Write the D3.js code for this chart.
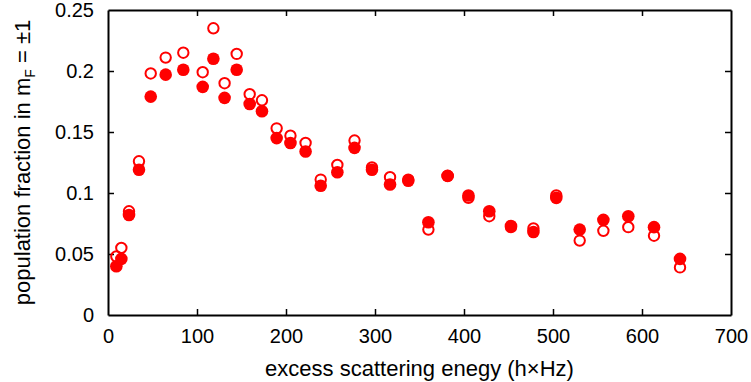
<!DOCTYPE html>
<html>
<head>
<meta charset="utf-8">
<script src="https://cdn.jsdelivr.net/npm/d3@7"></script>
<style>
  html, body { margin: 0; padding: 0; background: #fff; }
  svg { display: block; }
  text { font-family: "Liberation Sans", Arial, Helvetica, sans-serif; fill: #000; }
</style>
</head>
<body>
<svg id="chart" width="751" height="382"></svg>
<script>
// ---- data ----
const energy = [9.4, 15, 23.6, 34.8, 48, 64.8, 84.6, 106.4, 118.4, 131, 144.6, 159.2, 173, 189.5, 205, 222, 239, 257.7, 277, 296.6, 316.9, 337.4, 360, 381.6, 405, 428.4, 452.8, 478, 503.7, 530, 556.6, 584.6, 613.5, 642.7];
const filledFraction = [0.040, 0.046, 0.082, 0.119, 0.179, 0.197, 0.201, 0.187, 0.210, 0.178, 0.201, 0.173, 0.167, 0.145, 0.141, 0.134, 0.106, 0.117, 0.137, 0.119, 0.107, 0.110, 0.076, 0.114, 0.098, 0.085, 0.073, 0.068, 0.096, 0.070, 0.078, 0.081, 0.072, 0.046];
const openFraction = [0.048, 0.055, 0.085, 0.126, 0.198, 0.211, 0.215, 0.199, 0.235, 0.190, 0.214, 0.181, 0.176, 0.153, 0.147, 0.141, 0.111, 0.123, 0.143, 0.121, 0.113, 0.111, 0.070, 0.114, 0.096, 0.081, 0.072, 0.071, 0.098, 0.061, 0.069, 0.072, 0.065, 0.039];
const xTicks = [0, 100, 200, 300, 400, 500, 600, 700];
const yTicks = [0, 0.05, 0.1, 0.15, 0.2, 0.25];
const yTickLabels = ["0", "0.05", "0.1", "0.15", "0.2", "0.25"];

// ---- layout ----
const W = 751, H = 382;
const m = { left: 108, right: 20, top: 10, bottom: 67 };
const svg = d3.select("#chart");
const x = d3.scaleLinear().domain([0, 700]).range([m.left, W - m.right]);
const y = d3.scaleLinear().domain([0, 0.25]).range([H - m.bottom, m.top]);
const red = "#ff0000";
const fs = 20;
const lfs = 22;

// axes (inward ticks on all sides)
const gB = svg.append("g").attr("transform", `translate(0,${y(0)})`)
  .call(d3.axisBottom(x).tickValues(xTicks).tickSizeInner(-6).tickSizeOuter(0).tickPadding(14).tickFormat(d3.format("d")));
const gT = svg.append("g").attr("transform", `translate(0,${y(0.25)})`)
  .call(d3.axisTop(x).tickValues(xTicks).tickSizeInner(-6).tickSizeOuter(0).tickFormat(""));
const gL = svg.append("g").attr("transform", `translate(${x(0)},0)`)
  .call(d3.axisLeft(y).tickValues(yTicks).tickSizeInner(-6).tickSizeOuter(0).tickPadding(14).tickFormat((d, i) => yTickLabels[i]));
const gR = svg.append("g").attr("transform", `translate(${x(700)},0)`)
  .call(d3.axisRight(y).tickValues(yTicks).tickSizeInner(-6).tickSizeOuter(0).tickFormat(""));

[gB, gT, gL, gR].forEach(g => {
  g.select(".domain").attr("stroke", "#000").attr("stroke-width", 2);
  g.selectAll(".tick line").attr("stroke", "#000").attr("stroke-width", 1.5);
  g.selectAll(".tick text").attr("font-size", fs).attr("font-family", "Liberation Sans, Arial, sans-serif").attr("fill", "#000");
});
// hide tick marks at the corners (they coincide with the frame)
[gB, gT].forEach(g => g.selectAll(".tick").filter(d => d === 0 || d === 700).select("line").remove());
[gL, gR].forEach(g => g.selectAll(".tick").filter(d => d === 0 || d === 0.25).select("line").remove());

// markers
const pts = energy.map((e, i) => ({ e, f: filledFraction[i], o: openFraction[i] }));
svg.append("g").selectAll("circle").data(pts).join("circle")
  .attr("cx", d => x(d.e)).attr("cy", d => y(d.o)).attr("r", 5.2)
  .attr("fill", "none").attr("stroke", red).attr("stroke-width", 2);
svg.append("g").selectAll("circle").data(pts).join("circle")
  .attr("cx", d => x(d.e)).attr("cy", d => y(d.f)).attr("r", 6.3)
  .attr("fill", red);

// axis labels
svg.append("text").attr("x", (x(0) + x(700)) / 2).attr("y", 376)
  .attr("text-anchor", "middle").attr("font-size", lfs)
  .text("excess scattering enegy (h×Hz)");

const yl = svg.append("text")
  .attr("transform", `translate(30,${(y(0) + y(0.25)) / 2}) rotate(-90)`)
  .attr("text-anchor", "middle").attr("font-size", lfs);
yl.append("tspan").text("population fraction in m");
yl.append("tspan").attr("font-size", 14).attr("dy", 5).text("F");
yl.append("tspan").attr("dy", -5).text(" = ±1");
</script>
</body>
</html>
